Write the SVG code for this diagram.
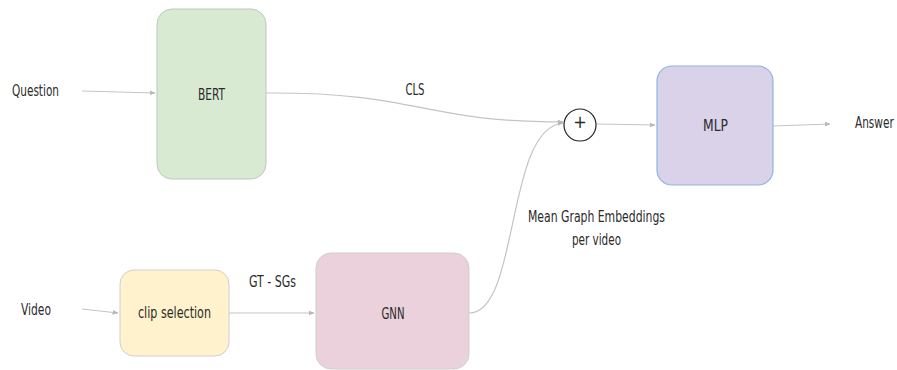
<svg xmlns="http://www.w3.org/2000/svg" width="897" height="370" viewBox="0 0 897 370">
<defs>
<style>
text{font-family:"DejaVu Sans Condensed","DejaVu Sans","Liberation Sans",sans-serif;font-size:15px;fill:#2a2a2a;}
.c{text-anchor:middle;dominant-baseline:central;}
.l{dominant-baseline:central;}
.e{fill:none;stroke:#c4c4c4;stroke-width:1.2;marker-end:url(#ah);}
</style>
<marker id="ah" viewBox="0 0 10 10" refX="9" refY="5" markerWidth="6" markerHeight="6" orient="auto" markerUnits="userSpaceOnUse">
<path d="M0,1 L10,5 L0,9 z" fill="#b8b8b8"/>
</marker>
</defs>
<rect width="897" height="370" fill="#fff"/>
<g id="connectors">
<path class="e" d="M82,91 L155,93"/>
<path class="e" d="M266,93 C420,92 420,122 563,122"/>
<path class="e" d="M469,313 C520,313 505,128 563,123"/>
<path class="e" d="M597,124 L655,125"/>
<path class="e" d="M773,126 L830,124"/>
<path class="e" d="M82,309 L118,313"/>
<path class="e" d="M229,313 L314,313"/>
</g>
<g id="question"><text class="l" x="12" y="91" textLength="47" lengthAdjust="spacingAndGlyphs">Question</text></g>
<g id="bert">
<rect x="157" y="9" width="109" height="170" rx="15" fill="#d9ead3" stroke="#c0c8bc" stroke-width="1"/>
<text class="c" x="211.5" y="95" textLength="27" lengthAdjust="spacingAndGlyphs">BERT</text>
</g>
<g id="cls-label"><text class="c" x="415" y="90" textLength="19" lengthAdjust="spacingAndGlyphs">CLS</text></g>
<g id="plus">
<circle cx="580" cy="125" r="16" fill="#fff" stroke="#222" stroke-width="1.2"/>
<text class="c" x="580" y="121" style="font-size:18px">+</text>
</g>
<g id="mlp">
<rect x="657" y="66" width="116" height="119" rx="15" fill="#d9d2e9" stroke="#8fb5e2" stroke-width="1.2"/>
<text class="c" x="715.5" y="126" textLength="25" lengthAdjust="spacingAndGlyphs">MLP</text>
</g>
<g id="answer"><text class="l" transform="translate(855,123) scale(0.78,1)" x="0" y="0">Answer</text></g>
<g id="video"><text class="l" x="21" y="310" textLength="30" lengthAdjust="spacingAndGlyphs">Video</text></g>
<g id="clip">
<rect x="120" y="270" width="109" height="86" rx="14" fill="#fff2cc" stroke="#cfcfcf" stroke-width="1"/>
<text class="c" x="174.5" y="313" textLength="73" lengthAdjust="spacingAndGlyphs">clip selection</text>
</g>
<g id="gt-label"><text class="c" x="272.5" y="282" textLength="47" lengthAdjust="spacingAndGlyphs">GT - SGs</text></g>
<g id="gnn">
<rect x="316" y="253" width="153" height="116" rx="15" fill="#ead1dc" stroke="#cfcfcf" stroke-width="1"/>
<text class="c" x="393" y="314" textLength="23" lengthAdjust="spacingAndGlyphs">GNN</text>
</g>
<g id="emb-label">
<text class="c" x="596.5" y="217" textLength="137" lengthAdjust="spacingAndGlyphs">Mean Graph Embeddings</text>
<text class="c" x="596.5" y="240" textLength="49" lengthAdjust="spacingAndGlyphs">per video</text>
</g>
</svg>
